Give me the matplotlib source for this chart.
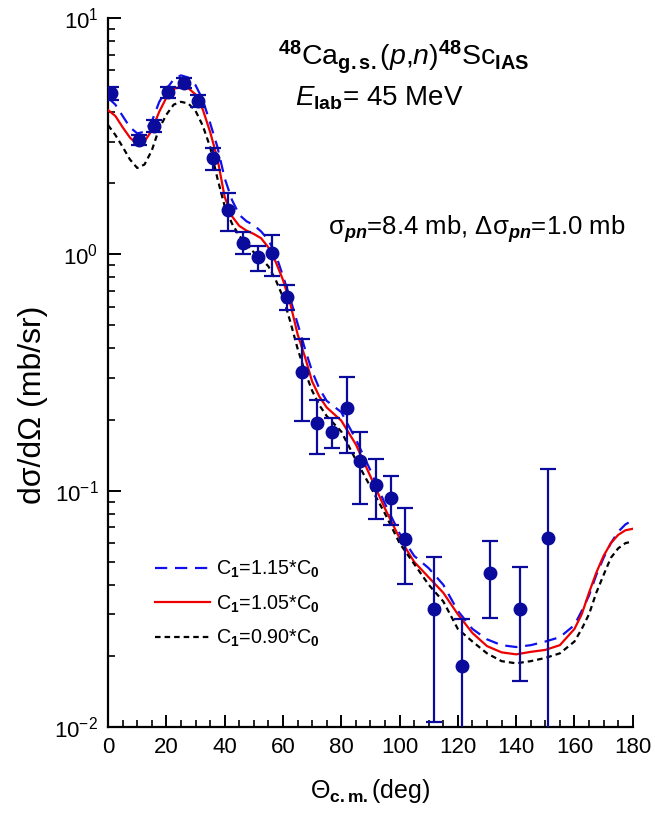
import matplotlib
matplotlib.use("Agg")
import matplotlib.pyplot as plt
from matplotlib.ticker import LogLocator, MultipleLocator, NullFormatter

plt.rcParams['font.family'] = ['Liberation Sans', 'DejaVu Sans']
plt.rcParams['mathtext.fontset'] = 'custom'
plt.rcParams['mathtext.rm'] = 'Liberation Sans'
plt.rcParams['mathtext.it'] = 'Liberation Sans:italic'
plt.rcParams['mathtext.bf'] = 'Liberation Sans:bold'
plt.rcParams['mathtext.bfit'] = 'Liberation Sans:bold:italic'
plt.rcParams['mathtext.sf'] = 'Liberation Sans'

# Experimental data: c.m. angle (deg), cross section (mb/sr), error (mb/sr)
theta_exp = [1.0, 10.6, 15.6, 20.7, 25.9, 30.8, 36.0, 41.3, 46.3, 51.4, 56.4,
             61.5, 66.5, 71.7, 76.7, 81.8, 86.6, 91.8, 96.9, 101.7, 111.7,
             121.4, 131.2, 141.2, 151.1]
xs_exp = [4.80, 3.05, 3.49, 4.85, 5.30, 4.47, 2.55, 1.54, 1.12, 0.97, 1.01,
          0.662, 0.318, 0.193, 0.177, 0.224, 0.133, 0.106, 0.0933, 0.0622,
          0.0315, 0.0182, 0.045, 0.0316, 0.0628]
err_exp = [0.30, 0.15, 0.20, 0.25, 0.25, 0.25, 0.27, 0.28, 0.12, 0.12, 0.20,
           0.08, 0.12, 0.05, 0.026, 0.08, 0.045, 0.03, 0.022, 0.022,
           0.021, 0.0104, 0.016, 0.016, 0.061]

# Calculated angular distributions
theta_calc = [0, 2.5, 5, 7.5, 10, 12.5, 15, 17.5, 20, 22.5, 25, 27.5, 30, 32.5,
              35, 37.5, 40, 42.5, 45, 47.5, 50, 52.5, 55, 57.5, 60, 62.5, 65,
              67.5, 70, 72.5, 75, 80, 85, 90, 95, 100, 105, 110, 115, 120, 125,
              130, 135, 140, 145, 150, 155, 160, 162.5, 165, 167.5, 170, 172.5,
              175, 177.5, 180]
xs_c115 = [4.60, 4.30, 3.85, 3.45, 3.25, 3.30, 3.65, 4.40, 5.00, 5.50, 5.72,
           5.60, 5.20, 4.50, 3.60, 2.85, 2.10, 1.70, 1.47, 1.38, 1.33, 1.25,
           1.15, 1.00, 0.81, 0.65, 0.51, 0.40, 0.32, 0.27, 0.24, 0.215, 0.165,
           0.122, 0.088, 0.066, 0.053, 0.047, 0.040, 0.031, 0.026, 0.0235,
           0.0222, 0.0218, 0.0222, 0.0230, 0.0240, 0.027, 0.031, 0.036, 0.044,
           0.052, 0.060, 0.067, 0.072, 0.075]
xs_c105 = [4.08, 3.85, 3.45, 3.12, 2.92, 3.00, 3.35, 4.00, 4.60, 5.00, 5.15,
           5.05, 4.75, 4.10, 3.30, 2.55, 1.75, 1.45, 1.32, 1.26, 1.22, 1.17,
           1.07, 0.93, 0.78, 0.62, 0.46, 0.37, 0.29, 0.25, 0.225, 0.198, 0.157,
           0.115, 0.084, 0.063, 0.050, 0.043, 0.037, 0.030, 0.025, 0.022,
           0.0207, 0.0203, 0.0208, 0.0212, 0.0222, 0.026, 0.030, 0.037, 0.045,
           0.053, 0.060, 0.065, 0.068, 0.069]
xs_c090 = [3.52, 3.20, 2.85, 2.52, 2.32, 2.40, 2.75, 3.40, 3.90, 4.30, 4.42,
           4.35, 4.05, 3.50, 2.85, 2.10, 1.60, 1.35, 1.20, 1.10, 1.02, 0.96,
           0.89, 0.78, 0.66, 0.52, 0.40, 0.32, 0.265, 0.23, 0.207, 0.178,
           0.135, 0.104, 0.080, 0.060, 0.049, 0.040, 0.034, 0.026, 0.023,
           0.0205, 0.0190, 0.0186, 0.0190, 0.0196, 0.0205, 0.023, 0.026, 0.030,
           0.037, 0.044, 0.052, 0.057, 0.060, 0.061]

curve_labels = [r'C$_{\mathbf{1}}$=1.15*C$_{\mathbf{0}}$',
                r'C$_{\mathbf{1}}$=1.05*C$_{\mathbf{0}}$',
                r'C$_{\mathbf{1}}$=0.90*C$_{\mathbf{0}}$']

fig = plt.figure(figsize=(6.55, 8.19), dpi=100)
ax = fig.add_axes([0.165, 0.1123, 0.801, 0.8657])

ax.plot(theta_calc, xs_c115, color='#1010ee', lw=1.6, ls=(0, (5.5, 3.5)),
        label=curve_labels[0], zorder=3)
ax.plot(theta_calc, xs_c105, color='#ee0000', lw=1.6, ls='-',
        label=curve_labels[1], zorder=3)
ax.plot(theta_calc, xs_c090, color='black', lw=1.6, ls=(0, (2.5, 1.8)),
        label=curve_labels[2], zorder=3)

ax.errorbar(theta_exp, xs_exp, yerr=err_exp, fmt='o', color='#0a0a9c',
            ms=9, elinewidth=1.6, capsize=5.5, capthick=1.6, zorder=4)

ax.set_yscale('log')
ax.set_xlim(0, 180)
ax.set_ylim(1e-2, 1e1)

for side in ('top', 'right'):
    ax.spines[side].set_visible(False)
for side in ('left', 'bottom'):
    ax.spines[side].set_linewidth(1.6)

ax.xaxis.set_major_locator(MultipleLocator(20))
ax.xaxis.set_minor_locator(MultipleLocator(5))
ax.yaxis.set_major_locator(LogLocator(base=10, numticks=10))
ax.yaxis.set_minor_locator(LogLocator(base=10, subs=range(2, 10), numticks=20))
ax.yaxis.set_minor_formatter(NullFormatter())
ax.tick_params(which='major', direction='in', length=9, width=1.4,
               labelsize=16, pad=7)
ax.tick_params(which='minor', direction='in', length=5, width=1.2)

ax.set_xlabel('Θ$_{\\mathbf{c.m.}}$(deg)', fontsize=18, labelpad=14)
ax.set_ylabel('dσ/dΩ (mb/sr)', fontsize=23)
ax.yaxis.set_label_coords(-0.115, 0.455)

ax.text(0.324, 0.944,
        r'$^{\mathbf{48}}$Ca$_{\mathbf{g.s.}}$($\it{p}$,$\it{n}$)$^{\mathbf{48}}$Sc$_{\mathbf{IAS}}$',
        transform=ax.transAxes, fontsize=20.5, va='center', ha='left')
ax.text(0.356, 0.887, r'$\it{E}_{\mathbf{lab}}$= 45 MeV',
        transform=ax.transAxes, fontsize=20, va='center', ha='left')
ax.text(0.419, 0.702,
        'σ$_{\\mathbfit{pn}}$=8.4 mb, Δσ$_{\\mathbfit{pn}}$=1.0 mb',
        transform=ax.transAxes, fontsize=18.5, va='center', ha='left')

ax.legend(loc='upper left', bbox_to_anchor=(0.055, 0.262), frameon=False,
          fontsize=14.2, handlelength=2.8, handletextpad=0.3,
          labelspacing=0.66)

fig.savefig('out.png', dpi=100)
